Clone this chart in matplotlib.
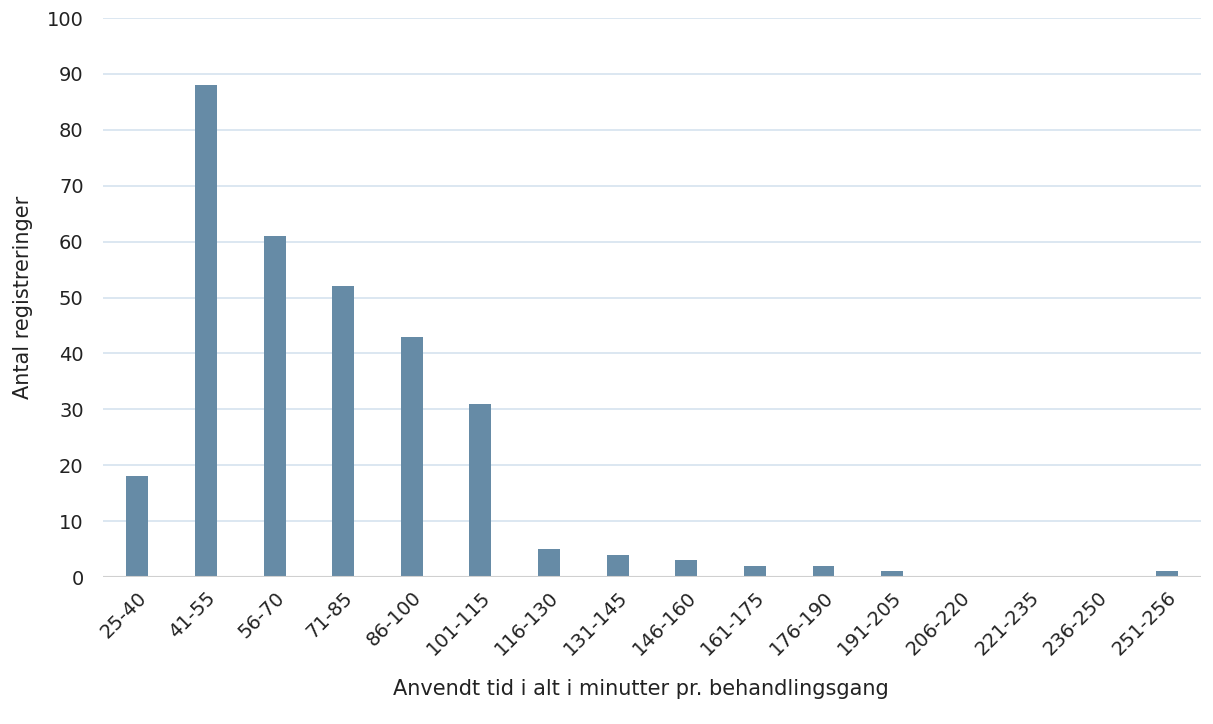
import matplotlib.pyplot as plt

plt.rcParams['font.family'] = ['DejaVu Sans']

intervals = ["25-40", "41-55", "56-70", "71-85", "86-100", "101-115", "116-130", "131-145",
             "146-160", "161-175", "176-190", "191-205", "206-220", "221-235", "236-250", "251-256"]
registrations = [18, 88, 61, 52, 43, 31, 5, 4, 3, 2, 2, 1, 0, 0, 0, 1]
y_ticks = list(range(0, 101, 10))

fig = plt.figure(figsize=(12.13, 7.24), dpi=100)
ax = fig.add_axes([0.085, 0.203, 0.905, 0.772])

x = list(range(len(intervals)))
ax.bar(x, registrations, width=0.32, color='#668ba6', zorder=3)

ax.set_xlim(-0.5, len(intervals) - 0.5)
ax.set_ylim(0, 100)
ax.set_yticks(y_ticks)
ax.yaxis.grid(True, color='#d6e3ef', linewidth=1.2, zorder=0)
ax.axhline(0, color='#d0d0d0', linewidth=1.5, zorder=4)

for side in ['top', 'right', 'left', 'bottom']:
    ax.spines[side].set_visible(False)

ax.set_xticks(x)
ax.set_xticklabels(intervals, rotation=45, ha='right', rotation_mode='anchor')
ax.tick_params(axis='both', length=0, labelsize=14, colors='#222222')
ax.tick_params(axis='x', pad=8)
ax.tick_params(axis='y', pad=14)

ax.set_ylabel('Antal registreringer', fontsize=15, color='#222222', labelpad=10)
xl = ax.set_xlabel('Anvendt tid i alt i minutter pr. behandlingsgang', fontsize=15, color='#222222', labelpad=14)
xl.set_x(0.49)

fig.savefig('out.png', dpi=100)
